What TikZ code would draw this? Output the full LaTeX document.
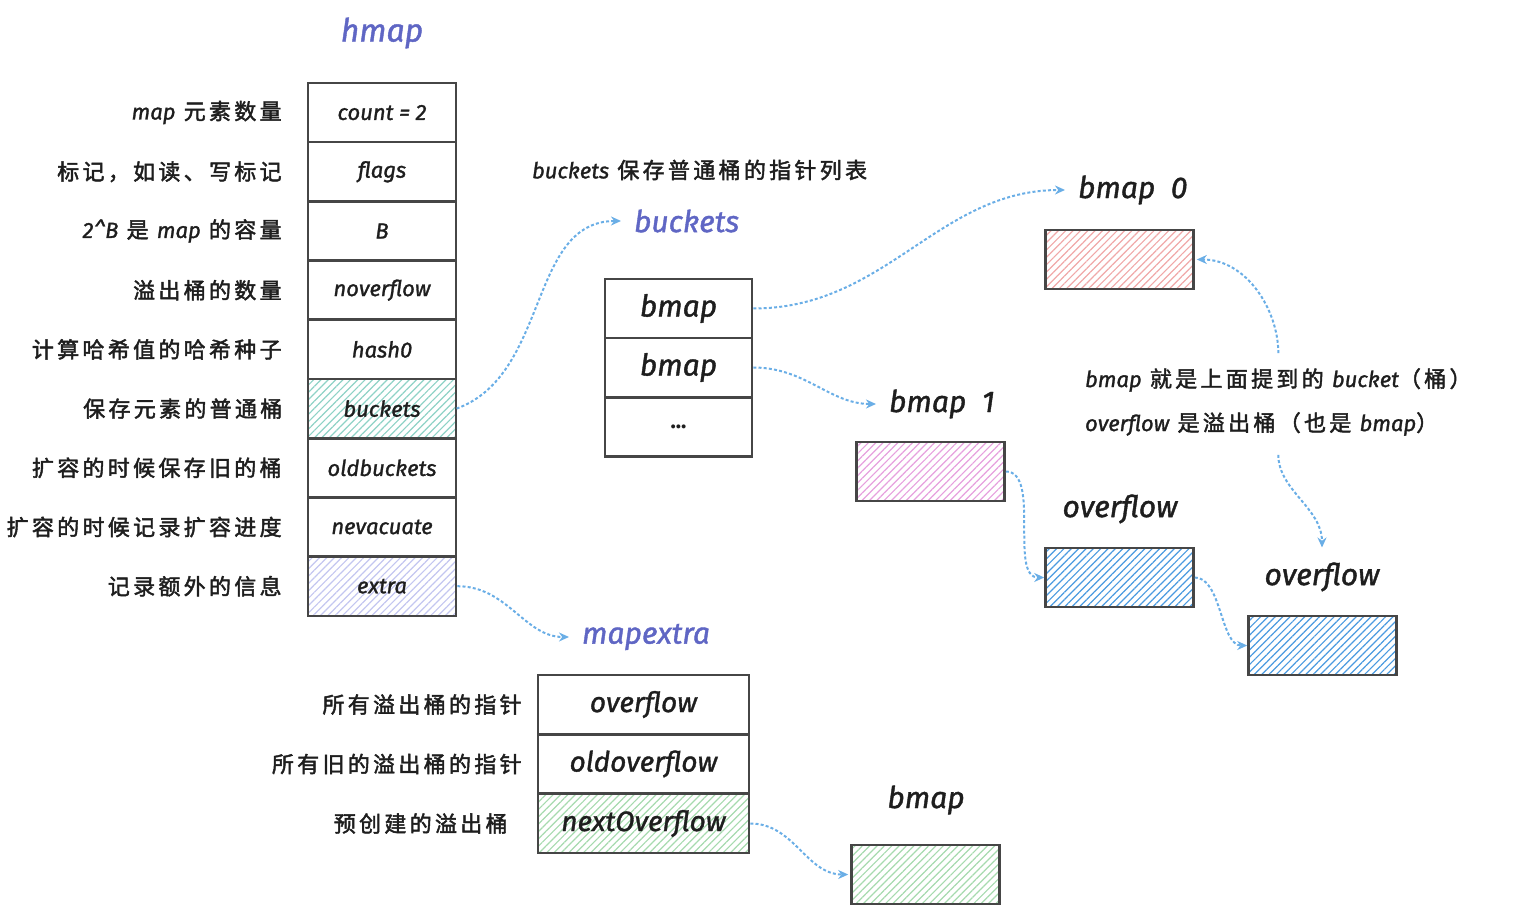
\documentclass[tikz,border=0pt]{standalone}
\usepackage{fontspec}
\setmainfont{Fira Sans}[ItalicFeatures={FakeBold=1.3}]
\newfontfamily\cjk[LetterSpace=15,FakeBold=2]{Noto Sans CJK SC}
\usetikzlibrary{arrows.meta,patterns.meta,positioning}
\newcommand\en[1]{{\normalfont\itshape #1}}
\definecolor{ink}{HTML}{1E1E1E}
\definecolor{boxline}{HTML}{464646}
\definecolor{titleblue}{HTML}{5F66C4}
\definecolor{linkblue}{HTML}{6AAEE6}
\definecolor{hteal}{HTML}{8ED2C6}
\definecolor{hlav}{HTML}{C3C6F0}
\definecolor{hpink}{HTML}{F0A8A8}
\definecolor{hmag}{HTML}{E6A0DE}
\definecolor{hblue}{HTML}{4A9AE0}
\definecolor{hgreen}{HTML}{A6DAAE}
\tikzset{
  field/.style={draw=boxline,line width=1.3pt,minimum width=74pt,minimum height=29.6pt,inner sep=0pt,text=ink,font=\itshape\fontsize{11}{13}\selectfont},
  slot/.style={field,minimum width=73.5pt,font=\itshape\fontsize{15}{18}\selectfont},
  xslot/.style={field,minimum width=105.5pt,font=\itshape\fontsize{14}{17}\selectfont},
  hatch/.style={pattern={Lines[angle=45,distance=2.6pt,line width=.6pt]},pattern color=#1},
  plain/.style={},
  hbkt/.style={hatch=hteal}, hext/.style={hatch=hlav},
  desc/.style={text=ink,font=\cjk\fontsize{11}{13}\selectfont},
  title/.style={text=titleblue,font=\itshape\fontsize{15}{18}\selectfont},
  lbl/.style={text=ink,font=\itshape\fontsize{15}{18}\selectfont},
  link/.style={draw=linkblue,line width=1pt,dash pattern=on 1.5pt off 1.1pt,-{Stealth[length=5pt,width=4.5pt]}},
}
\begin{document}
\begin{tikzpicture}[x=0.5pt,y=-0.5pt]
\useasboundingbox (0,0) rectangle (1520,914);
% hmap
\node[title,font=\itshape\fontsize{16}{19}\selectfont] (hmap) at (382,33) {hmap};
\foreach \nm/\lab/\sty/\dsc [count=\i from 0] in {
  cnt/{count = 2}/plain/{\en{map} 元素数量},
  flg/flags/plain/{标记，如读、写标记},
  bb/B/plain/{\en{2\textasciicircum B} 是 \en{map} 的容量},
  nov/noverflow/plain/{溢出桶的数量},
  hsh/hash0/plain/{计算哈希值的哈希种子},
  bkt/buckets/hbkt/{保存元素的普通桶},
  obk/oldbuckets/plain/{扩容的时候保存旧的桶},
  nev/nevacuate/plain/{扩容的时候记录扩容进度},
  ext/extra/hext/{记录额外的信息}}{
  \node[field,\sty] (\nm) at (382,{112.6+59.2*\i}) {\lab};
  \node[desc,left=9pt of \nm] (\nm-d) {\dsc};
}
% buckets
\node[desc,anchor=west] (bnote) at (525,170) {\en{buckets} 保存普通桶的指针列表};
\node[title,anchor=west] (lbk) at (627,221) {buckets};
\node[slot] (bk1) at (678.5,308.5) {bmap};
\node[slot] (bk2) at (678.5,367.5) {bmap};
\node[slot,font=\bfseries\fontsize{11}{13}\selectfont] (bk3) at (678.5,427) {\raisebox{-2pt}{...}};
% bmap chain
\node[lbl,anchor=west] (lb0) at (1071,190) {bmap\ \ 0};
\node[field,hatch=hpink] (b0) at (1119.5,259.5) {};
\node[lbl,anchor=west] (lb1) at (882,404) {bmap\ \ 1};
\node[field,hatch=hmag] (b1) at (930.5,471.5) {};
\node[lbl] (lov1) at (1120,509) {overflow};
\node[field,hatch=hblue] (ov1) at (1119.5,577.5) {};
\node[lbl] (lov2) at (1322,577) {overflow};
\node[field,hatch=hblue] (ov2) at (1322.5,645.5) {};
\node[desc,anchor=west,align=left,font=\cjk\fontsize{11}{22}\selectfont] (note) at (1078,402)
  {\en{bmap} 就是上面提到的 \en{bucket}（桶）\\ \en{overflow} 是溢出桶（也是 \en{bmap}）};
% mapextra
\node[title] (lmx) at (646,637) {mapextra};
\node[xslot] (xov) at (643.5,704.5) {overflow};
\node[xslot] (xold) at (643.5,764) {oldoverflow};
\node[xslot,hatch=hgreen] (xnext) at (643.5,823.5) {nextOverflow};
\node[desc,left=4pt of xov] (xov-d) {所有溢出桶的指针};
\node[desc,left=4pt of xold] (xold-d) {所有旧的溢出桶的指针};
\node[desc,left=11pt of xnext] (xnext-d) {预创建的溢出桶};
\node[lbl] (lbx) at (926,800) {bmap};
\node[field,hatch=hgreen] (bx) at (925.5,874.5) {};
% links
\draw[link,shorten >=3pt] (bkt.east) to[out=20,in=180] (lbk.west);
\draw[link,shorten >=3pt] (bk1.east) to[out=0,in=180] (lb0.west);
\draw[link,shorten >=3pt] (bk2.east) to[out=0,in=180] (lb1.west);
\draw[link] (b1.east) to[out=0,in=180,looseness=.8] (ov1.west);
\draw[link] (ov1.east) to[out=0,in=180,looseness=.8] (ov2.west);
\draw[link,shorten <=4pt,shorten >=1pt] (note.north) to[out=90,in=0] (b0.east);
\draw[link,shorten <=6pt,shorten >=4pt] (note.south) to[out=-90,in=90] (lov2.north);
\draw[link,shorten >=3pt] (ext.east) to[out=0,in=180] (lmx.west);
\draw[link,shorten >=1pt] (xnext.east) to[out=0,in=180] (bx.west);
\end{tikzpicture}
\end{document}
